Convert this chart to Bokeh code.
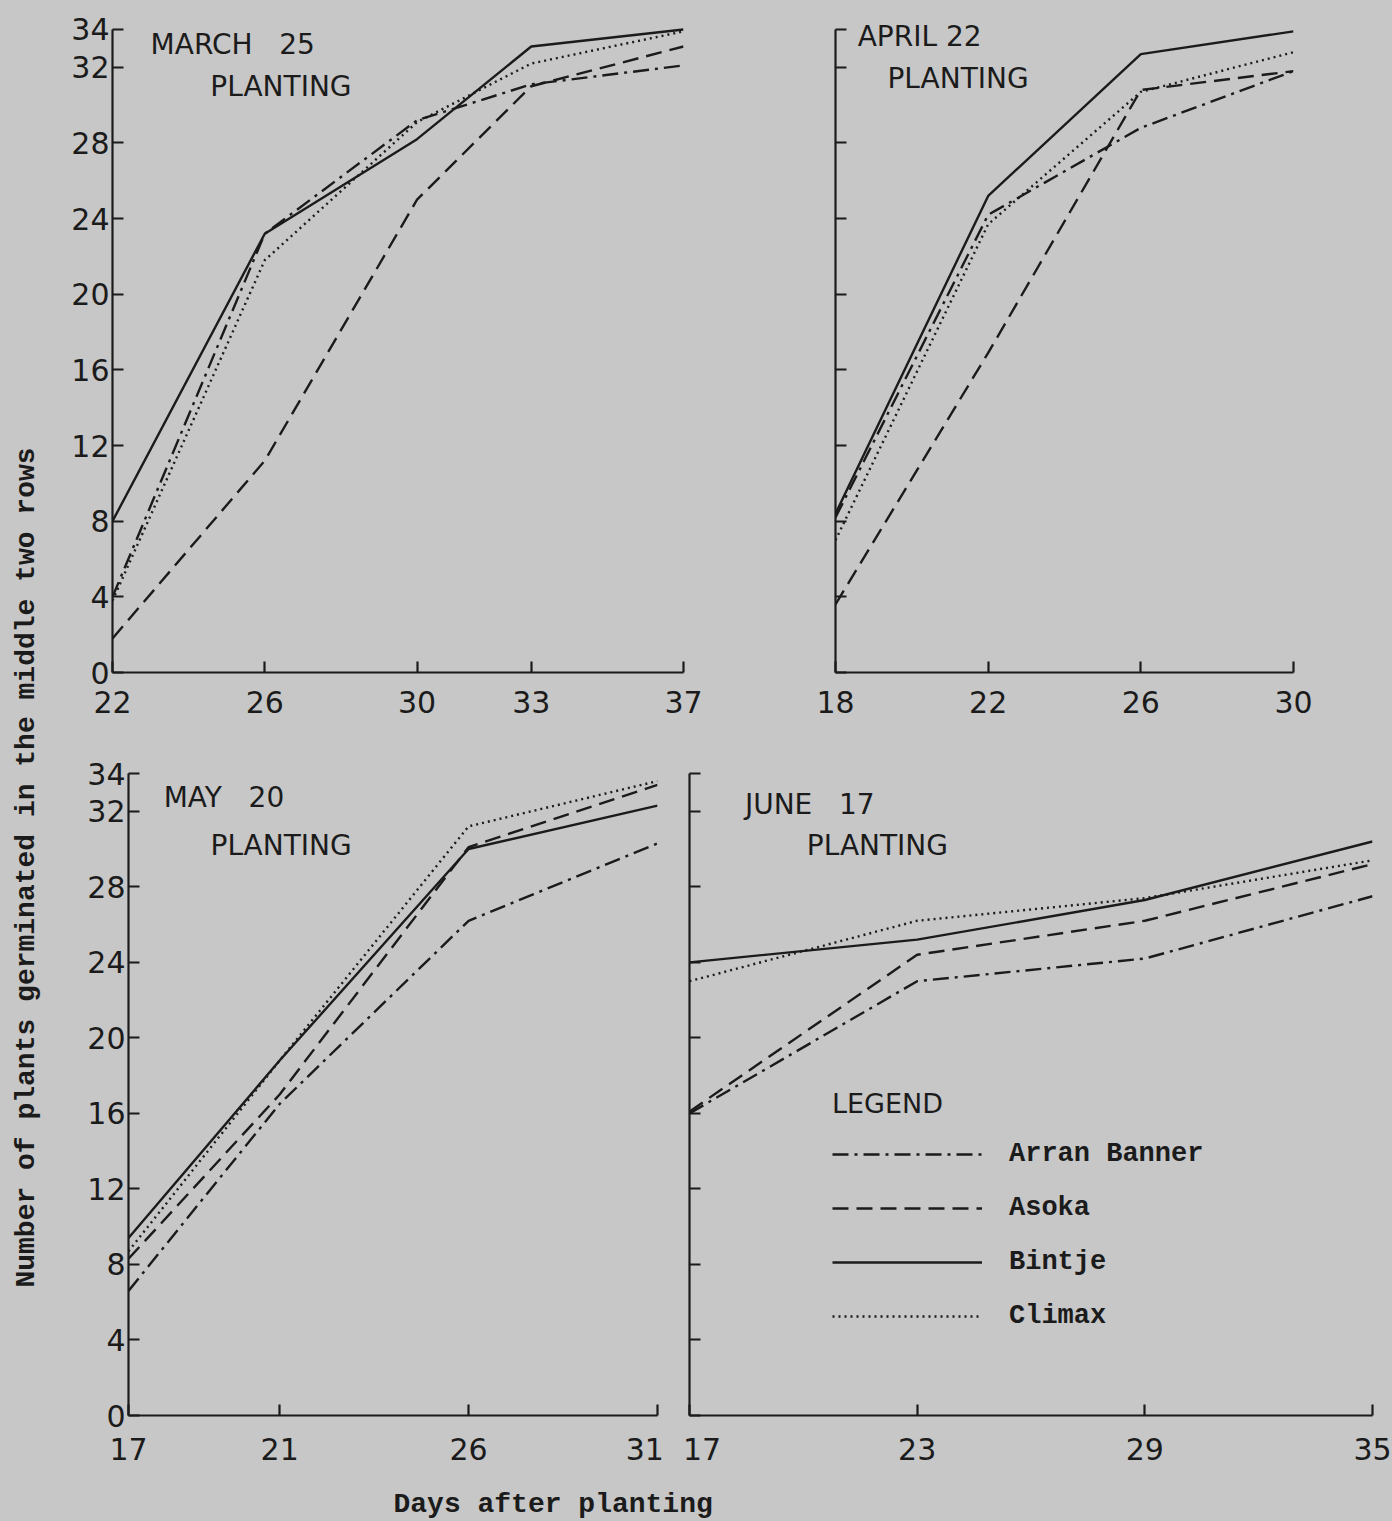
import math
from bokeh.plotting import figure
from bokeh.models import Range1d, FixedTicker, Legend, LegendItem, Label
from bokeh.layouts import row, column
from bokeh.embed import file_html
from bokeh.resources import INLINE

# ---------------- data ----------------
series_names = ["Arran Banner", "Asoka", "Bintje", "Climax"]

march_days = [22, 26, 30, 33, 37]
march_arran = [4.0, 23.2, 29.2, 31.1, 32.1]
march_asoka = [1.8, 11.2, 25.0, 31.0, 33.1]
march_bintje = [8.0, 23.2, 28.2, 33.1, 34.0]
march_climax = [3.8, 21.8, 29.1, 32.2, 33.9]

april_days = [18, 22, 26, 30]
april_arran = [8.2, 24.2, 28.8, 31.8]
april_asoka = [3.6, 16.9, 30.8, 31.8]
april_bintje = [8.4, 25.2, 32.7, 33.9]
april_climax = [7.0, 23.7, 30.7, 32.8]

may_days = [17, 21, 26, 31]
may_arran = [6.6, 16.5, 26.2, 30.3]
may_asoka = [8.3, 17.0, 30.1, 33.4]
may_bintje = [9.4, 18.8, 30.0, 32.3]
may_climax = [8.7, 18.8, 31.2, 33.6]

june_days = [17, 23, 29, 35]
june_arran = [16.0, 23.0, 24.2, 27.5]
june_asoka = [16.1, 24.4, 26.2, 29.2]
june_bintje = [24.0, 25.2, 27.3, 30.4]
june_climax = [23.0, 26.2, 27.4, 29.4]

y_ticks = [0, 4, 8, 12, 16, 20, 24, 28, 32, 34]

NB = "\u00a0"
panel_titles = [("MARCH" + NB * 3 + "25", "PLANTING"), ("APRIL 22", "PLANTING"),
                ("MAY" + NB * 3 + "20", "PLANTING"), ("JUNE" + NB * 3 + "17", "PLANTING")]
y_axis_title = "Number of plants germinated in the middle two rows"
x_axis_title = "Days after planting"

# ---------------- style ----------------
BG = "#c7c7c7"
INK = "#1b1b1b"
dashes = {"Arran Banner": "16 6 3 6", "Asoka": "16 8", "Bintje": "solid", "Climax": "2 4"}
TICK_FONT = "DejaVu Sans"
MONO = "Liberation Mono"


def panel(days, arran, asoka, bintje, climax, width, height, borders,
          show_ylabels, titles, title_pos, x_standoff, y_top=34, x_overrides=None):
    xr = Range1d(days[0], days[-1])
    yr = Range1d(0, y_top)
    p = figure(width=width, height=height, x_range=xr, y_range=yr,
               output_backend="svg", toolbar_location=None,
               background_fill_color=BG, border_fill_color=BG,
               min_border_left=borders[0], min_border_right=borders[1],
               min_border_top=borders[2], min_border_bottom=borders[3],
               styles={"background-color": BG})
    p.title.visible = False
    p.outline_line_color = None
    p.grid.visible = False
    for ax in (p.xaxis[0], p.yaxis[0]):
        ax.axis_line_color = INK
        ax.axis_line_width = 2.2
        ax.major_tick_line_color = INK
        ax.major_tick_line_width = 2.2
        ax.major_tick_in = 11
        ax.major_tick_out = 0
        ax.minor_tick_line_color = None
        ax.major_label_text_font = TICK_FONT
        ax.major_label_text_font_size = "30px"
        ax.major_label_text_color = INK
    p.xaxis.ticker = FixedTicker(ticks=days)
    p.xaxis.major_label_standoff = x_standoff
    if x_overrides:
        p.xaxis.major_label_overrides = x_overrides
    p.yaxis.ticker = FixedTicker(ticks=y_ticks)
    p.yaxis.bounds = (0, 34)
    p.yaxis.major_label_standoff = 3
    if not show_ylabels:
        p.yaxis.major_label_overrides = {t: "" for t in y_ticks}
    rends = {}
    for name, vals in zip(series_names, [arran, asoka, bintje, climax]):
        rends[name] = p.line(days, vals, line_color=INK, line_width=2.4,
                             line_dash=dashes[name])
    (t1, t2), ((x1, y1), (x2, y2)) = titles, title_pos
    for txt, x, y in ((t1, x1, y1), (t2, x2, y2)):
        p.add_layout(Label(x=x, y=y, text=txt, text_font=TICK_FONT,
                           text_font_size="28px", text_color=INK,
                           text_baseline="middle", text_align="left"))
    return p, rends


TOP_YMAX = 35.11
p1, _ = panel(march_days, march_arran, march_asoka, march_bintje, march_climax,
              702, 745, (54, 77, 8, 73), True, panel_titles[0],
              ((23.0, 33.21), (24.57, 30.99)), 18, y_top=TOP_YMAX)
p2, _ = panel(april_days, april_arran, april_asoka, april_bintje, april_climax,
              632, 745, (75, 99, 8, 73), False, panel_titles[1],
              ((18.58, 33.63), (19.36, 31.41)), 18, y_top=TOP_YMAX)
p3, _ = panel(may_days, may_arran, may_asoka, may_bintje, may_climax,
              615, 725, (70, 16, 28, 55), True, panel_titles[2],
              ((17.93, 32.73), (19.17, 30.19)), 16,
              x_overrides={31: "31" + NB})
p4, r4 = panel(june_days, june_arran, june_asoka, june_bintje, june_climax,
               719, 725, (16, 20, 28, 55), False, panel_titles[3],
               ((18.46, 32.36), (20.09, 30.19)), 16,
               x_overrides={17: NB + "17"})

legend = Legend(items=[LegendItem(label=n, renderers=[r4[n]]) for n in series_names],
                location=(143, 84), title="LEGEND",
                title_text_font=TICK_FONT, title_text_font_style="normal",
                title_text_font_size="27px", title_text_color=INK, title_standoff=20,
                label_text_font=MONO, label_text_font_style="bold",
                label_text_font_size="27px", label_text_color=INK,
                glyph_width=150, glyph_height=30, label_height=30,
                label_standoff=27, spacing=24, padding=0, margin=0,
                border_line_color=None, background_fill_alpha=0)
p4.add_layout(legend)


def text_fig(w, h):
    f = figure(width=w, height=h, x_range=Range1d(0, w), y_range=Range1d(0, h),
               output_backend="svg", toolbar_location=None,
               background_fill_color=BG, border_fill_color=BG,
               min_border=0, styles={"background-color": BG})
    f.title.visible = False
    f.axis.visible = False
    f.grid.visible = False
    f.outline_line_color = None
    return f


ylab = text_fig(58, 1521)
ylab.add_layout(Label(x=26, y=1521 - 867, text=y_axis_title, angle=math.pi / 2,
                      text_font=MONO, text_font_style="bold", text_font_size="28px",
                      text_color=INK, text_align="center", text_baseline="middle"))
xlab = text_fig(1334, 51)
xlab.add_layout(Label(x=335, y=17, text=x_axis_title,
                      text_font=MONO, text_font_style="bold", text_font_size="28px",
                      text_color=INK, text_align="left", text_baseline="middle"))

top = row(p1, p2, styles={"background-color": BG})
bottom = row(p3, p4, styles={"background-color": BG})
right = column(top, bottom, xlab, styles={"background-color": BG})
layout = row(ylab, right, styles={"background-color": BG})
open("out.html", "w").write(file_html(layout, INLINE))
